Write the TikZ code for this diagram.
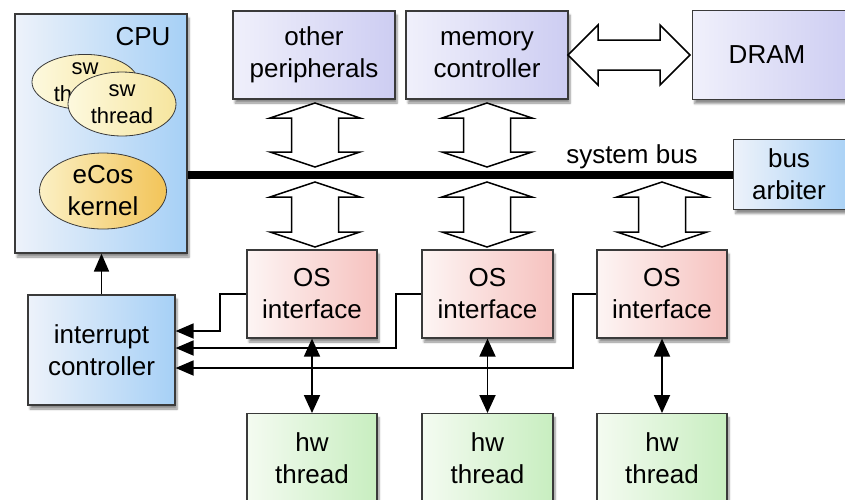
\documentclass[tikz,border=0pt]{standalone}
\usepackage{fontspec}
\setmainfont{Liberation Sans}
\usetikzlibrary{shapes.geometric,arrows.meta,shadows.blur}
\definecolor{bordc}{HTML}{3A3A3A}
\definecolor{cpuL}{HTML}{EDF2FA}
\definecolor{cpuR}{HTML}{A6D0F6}
\definecolor{lavL}{HTML}{F0F0FB}
\definecolor{lavR}{HTML}{CDCDF2}
\definecolor{osL}{HTML}{FDF5F4}
\definecolor{osR}{HTML}{F6C2BF}
\definecolor{hwL}{HTML}{F4FBF1}
\definecolor{hwR}{HTML}{C8EEC0}
\definecolor{ylL}{HTML}{FDF9DE}
\definecolor{ylR}{HTML}{F6E59E}
\definecolor{ecL}{HTML}{FBF0C4}
\definecolor{ecR}{HTML}{F2C458}
\newcommand\vhollow[3]{\draw[hollow] (#1,#2) -- (#1+45,#2+15) -- (#1+23.5,#2+15) -- (#1+23.5,#3-15) -- (#1+45,#3-15) -- (#1,#3) -- (#1-45,#3-15) -- (#1-23.5,#3-15) -- (#1-23.5,#2+15) -- (#1-45,#2+15) -- cycle;}
\tikzset{
  box/.style={draw=bordc, line width=1.2pt, rectangle, inner sep=0pt, align=center,
    font=\fontsize{26}{32}\selectfont,
    blur shadow={shadow xshift=2pt, shadow yshift=-4pt, shadow blur steps=6, shadow opacity=45}},
  cpubox/.style={box, left color=cpuL, right color=cpuR},
  lavbox/.style={box, left color=lavL, right color=lavR},
  osbox/.style={box, left color=osL, right color=osR},
  hwbox/.style={box, left color=hwL, right color=hwR},
  ell/.style={ellipse, draw=bordc, line width=0.8pt, inner sep=0pt, align=center},
  swell/.style={ell, left color=ylL, right color=ylR, font=\fontsize{22}{27}\selectfont},
  hollow/.style={draw=black, line width=1.5pt, fill=white, line join=miter},
  sig/.style={draw=black, line width=1.8pt, -{Triangle[length=18pt,width=15pt]}},
  dsig/.style={draw=black, line width=1.8pt, {Triangle[length=18pt,width=16pt]}-{Triangle[length=18pt,width=16pt]}},
  busline/.style={draw=black, line width=8pt},
  lbl/.style={font=\fontsize{26}{32}\selectfont, inner sep=0pt}
}
\begin{document}
\begin{tikzpicture}[x=1pt,y=-1pt]
\useasboundingbox (0,0) rectangle (845,499);
% CPU
\node[cpubox, minimum width=172pt, minimum height=239pt] (cpu) at (101,133.5) {};
\node[lbl] (cpulbl) at (143,37) {CPU};
\node[swell, minimum width=106pt, minimum height=55pt] (sw1) at (85,82) {sw\\thread};
\node[swell, minimum width=108pt, minimum height=64pt] (sw2) at (122,104) {sw\\thread};
\node[ell, left color=ecL, right color=ecR, font=\fontsize{26}{32}\selectfont, minimum width=127pt, minimum height=76pt] (ecos) at (103,191) {eCos\\kernel};
% top row
\node[lavbox, minimum width=162pt, minimum height=88pt] (oth) at (314,55) {other\\peripherals};
\node[lavbox, minimum width=162pt, minimum height=88pt] (mem) at (487,55) {memory\\controller};
\node[lavbox, minimum width=160pt, minimum height=89pt, anchor=north west] (dram) at (692,10) {};
\node[lbl] (dramlbl) at (767,55) {DRAM};
% bus arbiter
\node[cpubox, minimum width=120pt, minimum height=70pt, anchor=north west] (arb) at (733,139) {};
\node[lbl, align=center] (arblbl) at (789,174) {bus\\arbiter};
% OS interfaces
\node[osbox, minimum width=130pt, minimum height=88pt] (os1) at (312,294) {OS\\interface};
\node[osbox, minimum width=131pt, minimum height=88pt] (os2) at (487.5,294) {OS\\interface};
\node[osbox, minimum width=130pt, minimum height=88pt] (os3) at (662,294) {OS\\interface};
% hw threads
\node[hwbox, minimum width=130pt, minimum height=100pt, anchor=north] (hw1) at (312,413) {};
\node[hwbox, minimum width=131pt, minimum height=100pt, anchor=north] (hw2) at (487.5,413) {};
\node[hwbox, minimum width=130pt, minimum height=100pt, anchor=north] (hw3) at (662,413) {};
\node[lbl, align=center] (hw1l) at (312,458) {hw\\thread};
\node[lbl, align=center] (hw2l) at (487.5,458) {hw\\thread};
\node[lbl, align=center] (hw3l) at (662,458) {hw\\thread};
% interrupt controller
\node[cpubox, minimum width=147pt, minimum height=110pt] (ic) at (101.5,350) {interrupt\\controller};
% system bus
\draw[busline] (arb.west) -- (arb.west -| cpu.east);
\node[lbl] (buslbl) at (632,157) {system bus};
% hollow arrows
\vhollow{315}{103}{167}
\vhollow{487}{103}{167}
\vhollow{315}{182}{247}
\vhollow{487}{182}{247}
\vhollow{662}{182}{247}
\draw[hollow] (568,55) -- (598,25) -- (598,40) -- (660,40) -- (660,25) -- (690,55) -- (660,85) -- (660,70) -- (598,70) -- (598,85) -- cycle;
% interrupt lines
\draw[sig] (os1.west) -- (220,294) -- (220,331) -- ([yshift=19pt]ic.east);
\draw[sig] (os2.west) -- (396,294) -- (396,348) -- ([yshift=2pt]ic.east);
\draw[sig] (os3.west) -- (573,294) -- (573,368) -- ([yshift=-18pt]ic.east);
\draw[sig] (ic.north) -- (ic.north |- cpu.south);
% OS <-> hw
\draw[dsig] (os1.south) -- (hw1.north);
\draw[dsig] (os2.south) -- (hw2.north);
\draw[dsig] (os3.south) -- (hw3.north);
\end{tikzpicture}
\end{document}
